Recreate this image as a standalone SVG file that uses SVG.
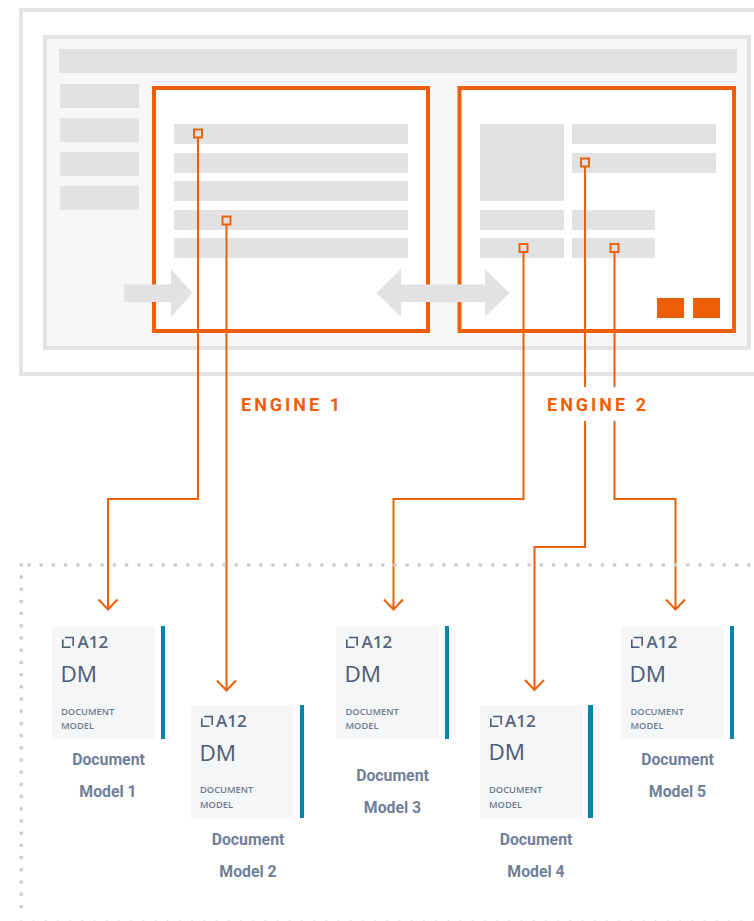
<svg xmlns="http://www.w3.org/2000/svg" xmlns:xlink="http://www.w3.org/1999/xlink" width="754" height="921" viewBox="0 0 754 921">
<style>
.g{fill:#e2e2e2}
.f{fill:none;stroke:#e3e3e3;stroke-width:4}
.o{fill:#fff;stroke:#ee5f0a;stroke-width:4}
.c{fill:none;stroke:#ee5f0a;stroke-width:2}
.h{fill:#e2e2e2;stroke:#ee5f0a;stroke-width:2}
.d{fill:none;stroke:#cfcfcf;stroke-width:4;stroke-linecap:round;stroke-dasharray:0 12.2}
.card{fill:#f5f6f8}
.bar{fill:#0085b0}
.a12{font:600 17px "Open Sans",sans-serif;fill:#56657c}
.dm{font:400 22.500px "Open Sans",sans-serif;fill:#4c5b73}
.sm{font:600 9.300px "Open Sans",sans-serif;fill:#6d7a8f}
.lb{font:700 15.800px Roboto,sans-serif;fill:#6f8099;text-anchor:middle}
.en{font:700 18px Roboto,sans-serif;fill:#ee5f0a;letter-spacing:3px}
.ic{fill:none;stroke:#4c5b73;stroke-width:1.600}
</style>
<defs>
<g id="card">
<rect class="card" width="103" height="113"/>
<path class="ic" d="M10.800 13.500V21.200H18.500M13 11.500H21.200V19.800"/>
</g>
</defs>
<rect class="f" x="21" y="10" width="800" height="364"/>
<rect x="45" y="37" width="704" height="311" fill="#f5f6f8" stroke="#e3e3e3" stroke-width="4"/>
<rect class="g" x="59" y="49" width="678" height="24"/>
<rect class="g" x="60" y="84" width="79" height="24"/>
<rect class="g" x="60" y="118" width="79" height="24"/>
<rect class="g" x="60" y="152" width="79" height="24"/>
<rect class="g" x="60" y="186" width="79" height="24"/>
<rect class="o" x="154" y="88" width="274" height="243"/>
<rect class="o" x="459.500" y="88" width="274.500" height="243"/>
<rect class="g" x="174" y="124" width="234" height="20"/>
<rect class="g" x="174" y="153" width="234" height="20"/>
<rect class="g" x="174" y="181" width="234" height="20"/>
<rect class="g" x="174" y="210" width="234" height="20"/>
<rect class="g" x="174" y="238" width="234" height="20"/>
<rect class="g" x="480" y="124" width="84" height="77"/>
<rect class="g" x="572" y="124" width="144" height="20"/>
<rect class="g" x="572" y="153" width="144" height="20"/>
<rect class="g" x="480" y="210" width="84" height="20"/>
<rect class="g" x="572" y="210" width="83" height="20"/>
<rect class="g" x="480" y="238" width="84" height="20"/>
<rect class="g" x="572" y="238" width="83" height="20"/>
<rect x="657" y="298" width="27" height="20" fill="#ee5f0a"/>
<rect x="693" y="298" width="27" height="20" fill="#ee5f0a"/>
<path class="g" d="M124 284.500H171V269L192.500 293L171 317V302H124Z"/>
<path class="g" d="M376.500 293L401 269V284.500H485V269L509.500 293L485 317V302H401V317Z"/>
<g id="connectors">
<path class="c" d="M198 138V499H108V609M98.500 599.500L108 609.500L117.500 599.500"/>
<path class="c" d="M226.500 225V690M217 680.500L226.500 690.500L236 680.500"/>
<path class="c" d="M523.500 253V499H393.500V609M384 599.500L393.500 609.500L403 599.500"/>
<path class="c" d="M585 167V387M585 421V547H534.500V689.500M525 680L534.500 690L544 680"/>
<path class="c" d="M614.500 253V387M614.500 421V499H675.500V609M666 599.500L675.500 609.500L685 599.500"/>
<rect class="h" x="194" y="129.500" width="8" height="8"/>
<rect class="h" x="222.500" y="216.500" width="8" height="8"/>
<rect class="h" x="581" y="158.500" width="8" height="8"/>
<rect class="h" x="519.500" y="244" width="8" height="8"/>
<rect class="h" x="610.500" y="244" width="8" height="8"/>
</g>
<text class="en" x="241" y="411">ENGINE 1</text>
<text class="en" x="547" y="411">ENGINE 2</text>
<path class="d" d="M21.300 565H29M29 565H760"/>
<path class="d" d="M21.300 577V910"/>
<path class="d" d="M21.300 922.500H760"/>
<g id="node1"><rect class="bar" x="161" y="626" width="4" height="113"/><use xlink:href="#card" x="52" y="626"/><text class="a12" x="77.500" y="648">A12</text><text class="dm" x="60.500" y="682">DM</text><text class="sm" x="61" y="715">DOCUMENT</text><text class="sm" x="61" y="729">MODEL</text><text class="lb" x="108.500" y="765">Document</text><text class="lb" x="108" y="797">Model 1</text></g>
<g id="node2"><rect class="bar" x="300" y="705" width="4" height="113"/><use xlink:href="#card" x="191" y="705"/><text class="a12" x="216" y="727">A12</text><text class="dm" x="199.500" y="761">DM</text><text class="sm" x="200" y="793">DOCUMENT</text><text class="sm" x="200" y="808">MODEL</text><text class="lb" x="248" y="845">Document</text><text class="lb" x="248" y="877">Model 2</text></g>
<g id="node3"><rect class="bar" x="445" y="626" width="4" height="113"/><use xlink:href="#card" x="336" y="626"/><text class="a12" x="361.500" y="648">A12</text><text class="dm" x="344.500" y="682">DM</text><text class="sm" x="345.500" y="715">DOCUMENT</text><text class="sm" x="345.500" y="729">MODEL</text><text class="lb" x="392.500" y="781">Document</text><text class="lb" x="392.500" y="813">Model 3</text></g>
<g id="node4"><rect class="bar" x="588" y="705" width="5" height="113"/><use xlink:href="#card" x="480" y="705"/><text class="a12" x="505" y="727">A12</text><text class="dm" x="488.500" y="760">DM</text><text class="sm" x="489" y="793">DOCUMENT</text><text class="sm" x="489" y="808">MODEL</text><text class="lb" x="536" y="845">Document</text><text class="lb" x="536" y="877">Model 4</text></g>
<g id="node5"><rect class="bar" x="730" y="626" width="4" height="113"/><use xlink:href="#card" x="621" y="626"/><text class="a12" x="646.500" y="648">A12</text><text class="dm" x="629.500" y="682">DM</text><text class="sm" x="630.500" y="715">DOCUMENT</text><text class="sm" x="630.500" y="729">MODEL</text><text class="lb" x="677.500" y="765">Document</text><text class="lb" x="677.500" y="797">Model 5</text></g>
</svg>
